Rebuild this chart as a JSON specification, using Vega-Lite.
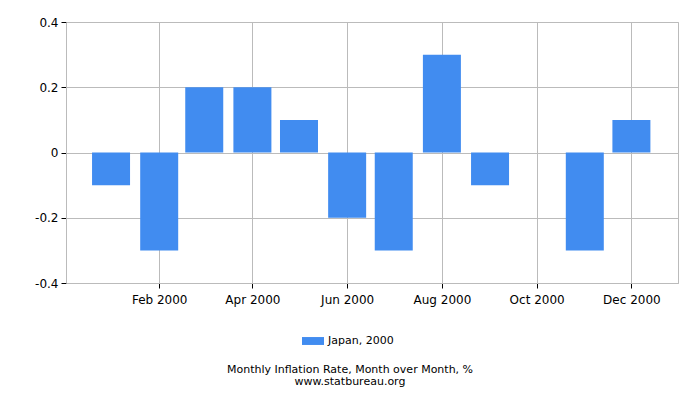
{
  "$schema": "https://vega.github.io/schema/vega-lite/v6.json",
  "width": 612,
  "height": 261,
  "autosize": "none",
  "padding": {"left": 66, "top": 22, "right": 22, "bottom": 117},
  "background": "white",
  "config": {
    "font": "DejaVu Sans",
    "view": {"stroke": "#bbbbbb"},
    "axis": {
      "gridColor": "#bbbbbb",
      "gridOpacity": 1,
      "domainColor": "#bbbbbb",
      "tickColor": "#000000",
      "tickSize": 5,
      "labelColor": "#000000",
      "labelFontSize": 12,
      "labelFont": "DejaVu Sans",
      "title": null
    }
  },
  "title": {
    "text": ["Monthly Inflation Rate, Month over Month, %", "www.statbureau.org"],
    "orient": "bottom",
    "anchor": "middle",
    "dx": -22,
    "fontSize": 11,
    "fontWeight": "normal",
    "color": "#000000",
    "lineHeight": 12,
    "offset": 18
  },
  "data": {
    "values": [
      {"date": "2000-01-01", "rate": -0.1, "series": "Japan, 2000"},
      {"date": "2000-02-01", "rate": -0.3, "series": "Japan, 2000"},
      {"date": "2000-03-01", "rate": 0.2, "series": "Japan, 2000"},
      {"date": "2000-04-01", "rate": 0.2, "series": "Japan, 2000"},
      {"date": "2000-05-01", "rate": 0.1, "series": "Japan, 2000"},
      {"date": "2000-06-01", "rate": -0.2, "series": "Japan, 2000"},
      {"date": "2000-07-01", "rate": -0.3, "series": "Japan, 2000"},
      {"date": "2000-08-01", "rate": 0.3, "series": "Japan, 2000"},
      {"date": "2000-09-01", "rate": -0.1, "series": "Japan, 2000"},
      {"date": "2000-10-01", "rate": 0.0, "series": "Japan, 2000"},
      {"date": "2000-11-01", "rate": -0.3, "series": "Japan, 2000"},
      {"date": "2000-12-01", "rate": 0.1, "series": "Japan, 2000"}
    ]
  },
  "mark": {"type": "bar", "width": 38},
  "encoding": {
    "x": {
      "field": "date",
      "type": "temporal",
      "scale": {
        "type": "utc",
        "nice": false,
        "padding": 0,
        "domain": [
          {"year": 1999, "month": 12, "date": 3, "utc": true},
          {"year": 2000, "month": 12, "date": 31, "utc": true}
        ]
      },
      "axis": {
        "values": [
          {"year": 2000, "month": 2, "date": 1, "utc": true},
          {"year": 2000, "month": 4, "date": 1, "utc": true},
          {"year": 2000, "month": 6, "date": 1, "utc": true},
          {"year": 2000, "month": 8, "date": 1, "utc": true},
          {"year": 2000, "month": 10, "date": 1, "utc": true},
          {"year": 2000, "month": 12, "date": 1, "utc": true}
        ],
        "labelExpr": "utcFormat(datum.value, '%b %Y')",
        "labelPadding": 6,
        "grid": true
      }
    },
    "y": {
      "field": "rate",
      "type": "quantitative",
      "scale": {"domain": [-0.4, 0.4], "nice": false},
      "axis": {
        "values": [-0.4, -0.2, 0, 0.2, 0.4],
        "labelExpr": "toString(datum.value)",
        "labelPadding": 3,
        "grid": true
      }
    },
    "color": {
      "field": "series",
      "type": "nominal",
      "scale": {"range": ["#418cf0"]},
      "legend": {
        "title": null,
        "orient": "none",
        "legendX": 235,
        "legendY": 307,
        "symbolType": "M-1,-0.36H1V0.36H-1Z",
        "symbolSize": 484,
        "symbolOpacity": 1,
        "labelFontSize": 11,
        "labelColor": "#000000",
        "labelOffset": 3
      }
    }
  }
}
